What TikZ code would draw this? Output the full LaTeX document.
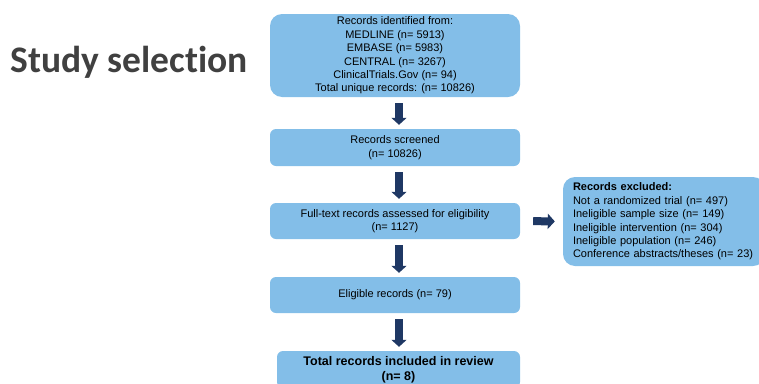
\documentclass[tikz,border=0pt]{standalone}
\usepackage{fontspec}
\setmainfont{Liberation Sans}
\newfontfamily\titlefont[Ligatures=NoCommon]{Carlito}
\usetikzlibrary{arrows.meta}
\definecolor{boxblue}{RGB}{131,190,232}
\definecolor{arrownavy}{RGB}{31,56,100}
\definecolor{titlegray}{RGB}{64,64,64}

\begin{document}
\begin{tikzpicture}[
        x=1pt, y=-1pt,
        box/.style={fill=boxblue, rounded corners=6pt, minimum width=250pt, inner sep=0pt,
            align=center, font=\fontsize{11}{13.4}\selectfont},
        flow/.style={arrownavy, line width=8pt, -{Triangle[width=15pt 0 0, length=7pt 0 0]},
            shorten <=6pt, shorten >=4pt}
    ]
        \useasboundingbox (0,0) rectangle (759,383);

        \node[font=\titlefont\bfseries\fontsize{37.5}{40}\selectfont, text=titlegray] (title) at (129,62) {Study selection};

        \node[box, minimum height=83pt, rounded corners=12pt] (identified) at (395,55.5)
            {Records identified from:\\MEDLINE (n= 5913)\\EMBASE (n= 5983)\\CENTRAL (n= 3267)\\ClinicalTrials.Gov (n= 94)\\Total unique records: (n= 10826)};
        \node[box, minimum height=37pt] (screened) at (395,147.5) {Records screened\\(n= 10826)};
        \node[box, minimum height=36pt] (fulltext) at (395,221) {Full-text records assessed for eligibility\\(n= 1127)};
        \node[box, minimum height=36pt] (eligible) at (395,295) {Eligible records (n= 79)};
        \node[box, minimum height=37pt, minimum width=243pt, font=\bfseries\fontsize{12.5}{15}\selectfont] (included) at (398.5,369.5)
            {Total records included in review\\(n= 8)};
        \node[box, minimum height=89pt, minimum width=202pt, rounded corners=12pt, text width=182pt, inner xsep=10pt, align=left] (excluded) at (664,221.5)
            {\textbf{Records excluded:}\\Not a randomized trial (n= 497)\\Ineligible sample size (n= 149)\\Ineligible intervention (n= 304)\\Ineligible population (n= 246)\\Conference abstracts/theses (n= 23)};

        \draw[flow] ([xshift=4pt]identified.south) -- ([xshift=4pt]screened.north);
        \draw[flow] ([xshift=4pt]screened.south) -- ([xshift=4pt]fulltext.north);
        \draw[flow] ([xshift=4pt]fulltext.south) -- ([xshift=4pt]eligible.north);
        \draw[flow] ([xshift=4pt]eligible.south) -- ([xshift=0.5pt]included.north);
        \draw[flow, shorten <=13pt, shorten >=8pt] (fulltext.east) -- (excluded.west);
    \end{tikzpicture}
\end{document}
